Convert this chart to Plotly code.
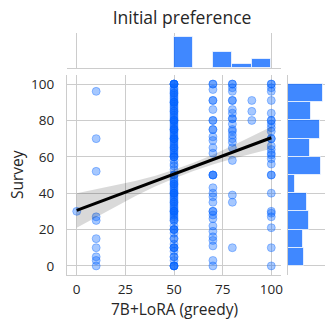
import plotly.graph_objects as go

# scatter columns (x value -> survey values)
x0_y = [30]
x10_y = [96, 70, 52, 27, 25, 15, 10, 5, 3, 0]
x50_y = [100, 100, 100, 100, 100, 98, 97, 96, 95, 95, 94, 93, 92, 91, 90, 90, 90, 89, 88,
         87, 86, 85, 85, 84, 83, 82, 81, 80, 80, 80, 79, 78, 77, 76, 75, 75, 75, 74, 73, 72,
         71, 70, 70, 70, 69, 68, 67, 66, 65, 65, 64, 63, 62, 61, 60, 60, 60, 58, 56, 55, 53,
         50, 50, 48, 47, 46, 45, 45, 44, 43, 42, 41, 40, 40, 40, 39, 38, 37, 36, 35, 35, 34,
         33, 32, 31, 30, 30, 30, 29, 28, 27, 26, 25, 25, 22, 20, 20, 20, 18, 15, 15, 12, 10,
         10, 10, 8, 5, 5, 3, 0, 0, 0, 0]
x70_y = [100, 100, 97, 91, 91, 86, 80, 80, 75, 75, 71, 69, 65, 62, 50, 50, 50, 43, 40, 38,
         35, 30, 30, 28, 26, 22, 19, 16, 14, 11, 3, 0]
x80_y = [100, 100, 98, 96, 91, 91, 86, 84, 81, 81, 78, 75, 74, 72, 70, 68, 65, 58, 39, 35, 10]
x90_y = [91, 85, 80]
x100_y = [100, 100, 98, 96, 91, 84, 80, 80, 78, 76, 74, 70, 70, 66, 64, 62, 61, 59, 56,
          50, 50, 40, 30, 29, 27, 21, 10, 0]

columns = [(0, x0_y), (10, x10_y), (50, x50_y), (70, x70_y), (80, x80_y), (90, x90_y), (100, x100_y)]
scatter_x = [cx for cx, ys in columns for _ in ys]
scatter_y = [v for _, ys in columns for v in ys]

# regression line and confidence band
reg_x = [0, 100]
reg_y = [30.5, 70.5]
band_x = [0, 10, 20, 30, 40, 50, 60, 70, 80, 90, 100]
band_upper = [40, 42.1, 44.3, 46.7, 49.5, 52.9, 56.8, 61.2, 66.1, 71.2, 76.5]
band_lower = [21, 26.9, 32.7, 38.3, 43.5, 48.1, 52.2, 55.8, 58.9, 61.8, 64.5]

# marginal histograms
top_bins = [55, 75, 85, 95]
top_counts = [31.3, 16.3, 4.3, 9.3]
right_bins = [5, 15, 25, 35, 45, 55, 65, 75, 85, 95]
right_counts = [15.4, 14.4, 20.4, 18.4, 7, 32.4, 21.4, 31.4, 22, 34.4]

BLUE = "rgba(0,96,255,0.35)"
BAR = "rgba(0,96,255,0.75)"
GRID = "#cccccc"
TXT = "#262626"
FONT = "Open Sans"

fig = go.Figure()

fig.add_trace(go.Scatter(
    x=scatter_x, y=scatter_y, mode="markers",
    marker=dict(size=8, color=BLUE, line=dict(width=1, color=BLUE)),
    xaxis="x", yaxis="y", showlegend=False
))
fig.add_trace(go.Scatter(
    x=band_x, y=band_lower, mode="lines", line=dict(width=0),
    xaxis="x", yaxis="y", showlegend=False, hoverinfo="skip"
))
fig.add_trace(go.Scatter(
    x=band_x, y=band_upper, mode="lines", line=dict(width=0),
    fill="tonexty", fillcolor="rgba(0,0,0,0.15)",
    xaxis="x", yaxis="y", showlegend=False, hoverinfo="skip"
))
fig.add_trace(go.Scatter(
    x=reg_x, y=reg_y, mode="lines", line=dict(color="black", width=3),
    xaxis="x", yaxis="y", showlegend=False
))

fig.add_trace(go.Bar(
    x=top_bins, y=top_counts, width=10,
    marker=dict(color=BAR, line=dict(color="rgba(255,255,255,0.7)", width=1)),
    xaxis="x2", yaxis="y2", showlegend=False
))
fig.add_trace(go.Bar(
    y=right_bins, x=right_counts, width=10, orientation="h",
    marker=dict(color=BAR, line=dict(color="rgba(255,255,255,0.7)", width=1)),
    xaxis="x3", yaxis="y3", showlegend=False
))

W, H = 334, 328


def px(v):
    return v / W


def py(v):
    return 1 - v / H


main_x = [px(67), px(281)]
main_y = [py(275), py(75)]

fig.update_layout(
    width=W, height=H,
    margin=dict(l=0, r=0, t=0, b=0),
    paper_bgcolor="white", plot_bgcolor="white",
    font=dict(family=FONT, color=TXT, size=13),
    bargap=0,
    title=dict(text="Initial preference", x=px(182), xanchor="center",
               y=py(18), yanchor="middle", font=dict(size=17.5, color=TXT)),
    xaxis=dict(domain=main_x, anchor="y", range=[-5, 105], tickvals=[0, 25, 50, 75, 100],
               showgrid=True, gridcolor=GRID, gridwidth=1, zeroline=False,
               showline=True, linecolor=GRID, linewidth=1.2, automargin=False,
               ticks="", ticklabelstandoff=2, tickfont=dict(size=13.5)),
    yaxis=dict(domain=main_y, anchor="x", range=[-5, 105], tickvals=[0, 20, 40, 60, 80, 100],
               showgrid=True, gridcolor=GRID, gridwidth=1, zeroline=False,
               showline=True, linecolor=GRID, linewidth=1.2, automargin=False,
               ticks="", ticklabelstandoff=9, tickfont=dict(size=13.5)),
    xaxis2=dict(domain=main_x, anchor="y2", matches="x", showticklabels=False,
                showgrid=True, gridcolor=GRID, zeroline=False, automargin=False,
                showline=True, linecolor=GRID, linewidth=1.2),
    yaxis2=dict(domain=[py(68), py(33)], anchor="x2", range=[0, 35],
                showgrid=False, showticklabels=False, zeroline=False, showline=False,
                automargin=False),
    xaxis3=dict(domain=[px(288), px(325)], anchor="y3", range=[0, 36],
                showgrid=False, showticklabels=False, zeroline=False, showline=False,
                automargin=False),
    yaxis3=dict(domain=main_y, anchor="x3", matches="y", showticklabels=False,
                tickvals=[0, 20, 40, 60, 80, 100], automargin=False,
                showgrid=True, gridcolor=GRID, zeroline=False,
                showline=True, linecolor=GRID, linewidth=1.2),
    annotations=[
        dict(text="7B+LoRA (greedy)", x=px(174), y=py(309), xref="paper", yref="paper",
             xanchor="center", yanchor="middle", showarrow=False, font=dict(size=15.5)),
        dict(text="Survey", x=px(17), y=py(175), xref="paper", yref="paper",
             xanchor="center", yanchor="middle", showarrow=False, textangle=-90,
             font=dict(size=15.5)),
    ],
)

# drop the browser's default 8px body margin so the figure fills the window
fig.write_html("out.html", config={"displayModeBar": False},
               post_script="document.body.style.margin='0';")
